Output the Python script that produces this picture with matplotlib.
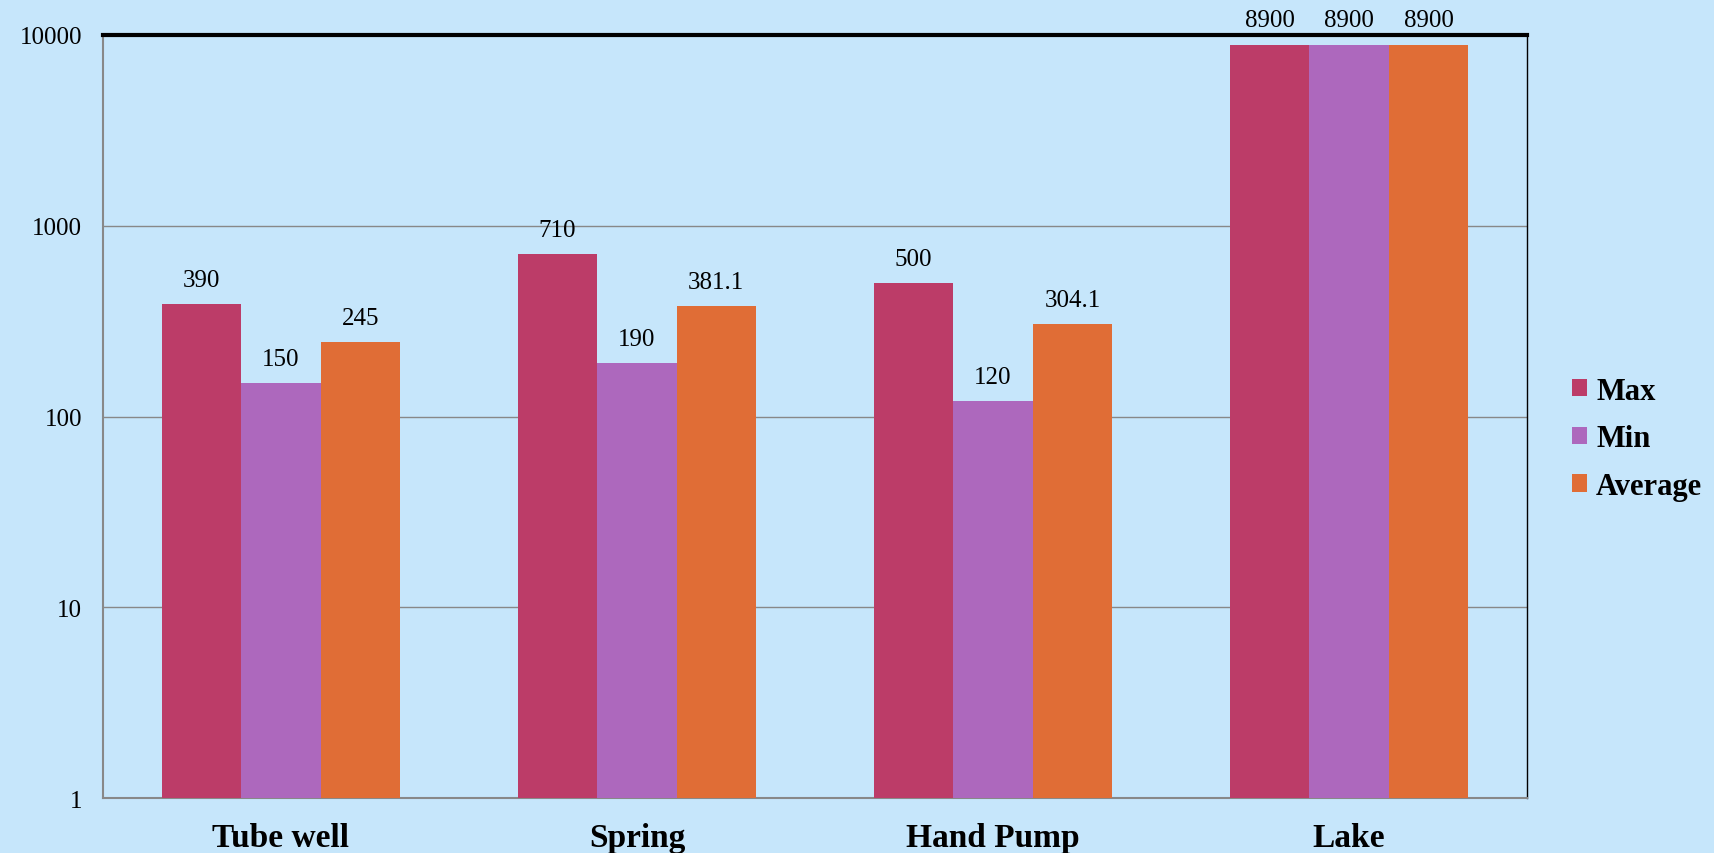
import numpy as np
import matplotlib
matplotlib.use("Agg")
import matplotlib.pyplot as plt

# 数据
categories = ["Tube well", "Spring", "Hand Pump", "Lake"]
max_vals = [390, 710, 500, 8900]
min_vals = [150, 190, 120, 8900]
avg_vals = [245, 381.1, 304.1, 8900]
avg_labels = ["245", "381.1", "304.1", "8900"]

series = [("Max", max_vals, "#BC3C68"),
          ("Min", min_vals, "#AD68BD"),
          ("Average", avg_vals, "#E06D36")]

plt.rcParams["font.family"] = ["Liberation Serif", "DejaVu Serif"]
bg = "#C6E6FB"

fig = plt.figure(figsize=(17.14, 8.54), dpi=100, facecolor=bg)
ax = fig.add_axes([0.060, 0.064, 0.831, 0.894], facecolor=bg)

x = np.arange(len(categories))
w = 0.223
for i, (name, vals, color) in enumerate(series):
    pos = x + (i - 1) * w
    bars = ax.bar(pos, vals, width=w, color=color, label=name, zorder=3)
    labels = avg_labels if name == "Average" else [str(v) for v in vals]
    for b, lab in zip(bars, labels):
        ax.annotate(lab, (b.get_x() + b.get_width() / 2, b.get_height()),
                    xytext=(0, 13), textcoords="offset points",
                    ha="center", va="baseline", fontsize=18)

ax.set_yscale("log")
ax.set_ylim(1, 10000)
ax.set_xlim(-0.5, 3.5)
ax.set_yticks([1, 10, 100, 1000, 10000])
ax.set_yticklabels(["1", "10", "100", "1000", "10000"], fontsize=18)
ax.minorticks_off()
ax.tick_params(axis="y", length=0, pad=15)
ax.set_xticks(x)
ax.set_xticklabels(categories, fontsize=24, fontweight="bold")
ax.tick_params(axis="x", length=0, pad=17)

ax.grid(axis="y", color="#888888", linewidth=1, zorder=0)
for s in ["left", "bottom"]:
    ax.spines[s].set_color("#888888")
    ax.spines[s].set_linewidth(1.5)
ax.spines["top"].set_color("black")
ax.spines["top"].set_linewidth(3)
ax.spines["right"].set_color("black")
ax.spines["right"].set_linewidth(1)

leg = ax.legend(loc="center left", bbox_to_anchor=(1.012, 0.471), frameon=False,
                prop={"size": 22, "weight": "bold"}, handlelength=0.5,
                handleheight=0.5, handletextpad=0.3, labelspacing=0.61)

fig.savefig("out.png", dpi=100, facecolor=bg)
